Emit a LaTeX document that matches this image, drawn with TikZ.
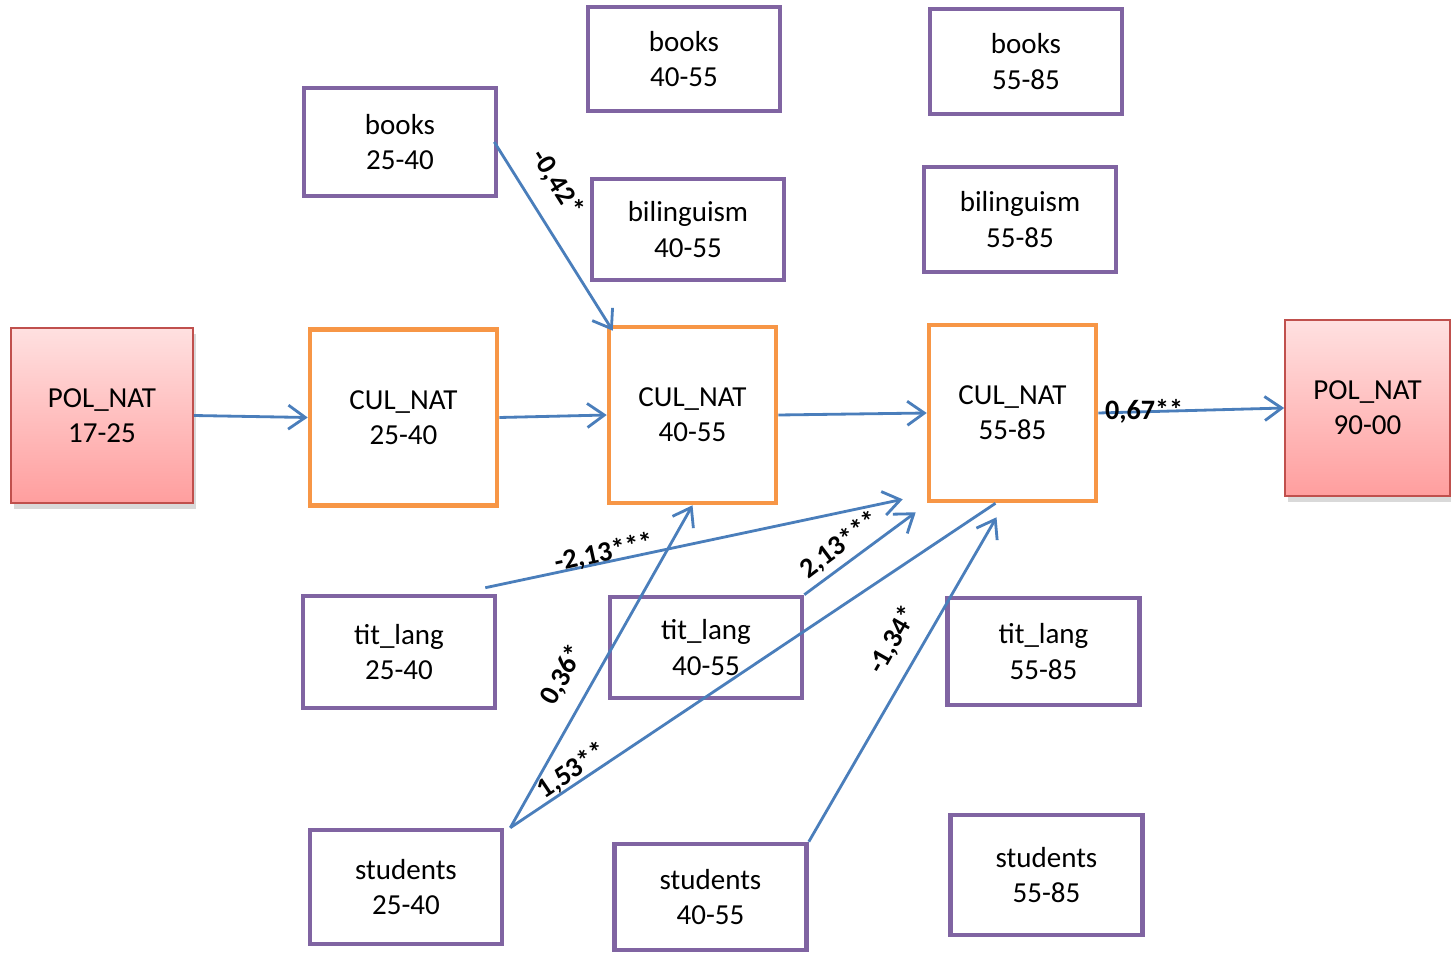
\documentclass[tikz,border=0pt]{standalone}
\usepackage{fontspec}
\setmainfont{Carlito}
\usepackage{tikz}
\usetikzlibrary{arrows.meta,shadows}
\definecolor{linkblue}{HTML}{4A7EBB}
\definecolor{culorange}{HTML}{F79646}
\definecolor{varpurple}{HTML}{8064A2}
\definecolor{polred}{HTML}{C0504D}
\tikzset{
  box/.style={draw, line width=2.6pt, inner sep=0pt, align=center,
    font=\fontsize{16.5}{20}\selectfont},
  varbox/.style={box, draw=varpurple, minimum width=3.84cm},
  culbox/.style={box, draw=culorange, minimum height=3.52cm},
  polbox/.style={box, draw=polred, line width=1pt, top color=red!12, bottom color=red!38,
    drop shadow={opacity=0.3, shadow xshift=0.06cm, shadow yshift=-0.12cm}},
  link/.style={line width=1.6pt, linkblue, -{Straight Barb[length=3.4mm,width=4.8mm,line width=1.6pt]}},
  coef/.style={font=\fontsize{16}{18}\selectfont\bfseries, inner sep=0pt}
}
\begin{document}
\begin{tikzpicture}
  \useasboundingbox (0,0) rectangle (29.02,-19.06);
  \node[polbox, minimum width=3.64cm, minimum height=3.5cm] (pol1) at (2.04,-8.31) {POL\_NAT\\17-25};
  \node[polbox, minimum width=3.3cm, minimum height=3.52cm] (pol2) at (27.35,-8.16) {POL\_NAT\\90-00};
  \node[culbox, minimum width=3.74cm] (cul1) at (8.07,-8.35) {CUL\_NAT\\25-40};
  \node[culbox, minimum width=3.34cm] (cul2) at (13.85,-8.30) {CUL\_NAT\\40-55};
  \node[culbox, minimum width=3.34cm] (cul3) at (20.25,-8.26) {CUL\_NAT\\55-85};

  \node[varbox, minimum height=2.16cm] (books1) at (8.00,-2.84) {books\\25-40};
  \node[varbox, minimum height=2.08cm] (books2) at (13.68,-1.18) {books\\40-55};
  \node[varbox, minimum height=2.10cm] (books3) at (20.52,-1.23) {books\\55-85};
  \node[varbox, minimum height=2.02cm] (bil2) at (13.76,-4.59) {bilinguism\\40-55};
  \node[varbox, minimum height=2.10cm] (bil3) at (20.40,-4.39) {bilinguism\\55-85};
  \node[varbox, minimum height=2.24cm] (tit1) at (7.98,-13.04) {tit\_lang\\25-40};
  \node[varbox, minimum height=2.02cm] (tit2) at (14.12,-12.95) {tit\_lang\\40-55};
  \node[varbox, minimum height=2.14cm] (tit3) at (20.87,-13.03) {tit\_lang\\55-85};
  \node[varbox, minimum height=2.28cm] (stud1) at (8.12,-17.74) {students\\25-40};
  \node[varbox, minimum height=2.12cm] (stud2) at (14.21,-17.94) {students\\40-55};
  \node[varbox, minimum height=2.40cm] (stud3) at (20.93,-17.50) {students\\55-85};

  \draw[link] (pol1.east) -- (cul1.west);
  \draw[link] (cul1.east) -- (cul2.west);
  \draw[link] (cul2.east) -- (cul3.west);
  \draw[link] (cul3.east) -- (pol2.west);
  \draw[link] ([xshift=-0.08cm]books1.east) -- ([shift={(0.12,-0.12)}]cul2.north west);
  \draw[link] ([shift={(-0.24,0.12)}]tit1.north east) -- ([shift={(-0.48,0.08)}]cul3.south west);
  \draw[link] (tit2.north east) -- ([shift={(-0.22,-0.18)}]cul3.south west);
  \draw[link] ([xshift=0.12cm]stud1.north east) -- (cul2.south);
  \draw[line width=1.6pt, linkblue] ([xshift=0.12cm]stud1.north east) -- ([xshift=-0.34cm]cul3.south);
  \draw[link] (stud2.north east) -- ([shift={(-0.32,-0.28)}]cul3.south);

  \node[coef] (c1) at (22.88,-8.22) {0,67**};
  \node[coef, rotate=-57.8] (c2) at (11.14,-3.66) {-0,42*};
  \node[coef, rotate=12.4] (c3) at (12.08,-11.06) {-2,13***};
  \node[coef, rotate=36.9] (c4) at (16.80,-10.90) {2,13***};
  \node[coef, rotate=60.8] (c5) at (11.26,-13.50) {0,36*};
  \node[coef, rotate=34] (c6) at (11.44,-15.42) {1,53**};
  \node[coef, rotate=60.3] (c7) at (17.86,-12.80) {-1,34*};
\end{tikzpicture}
\end{document}
